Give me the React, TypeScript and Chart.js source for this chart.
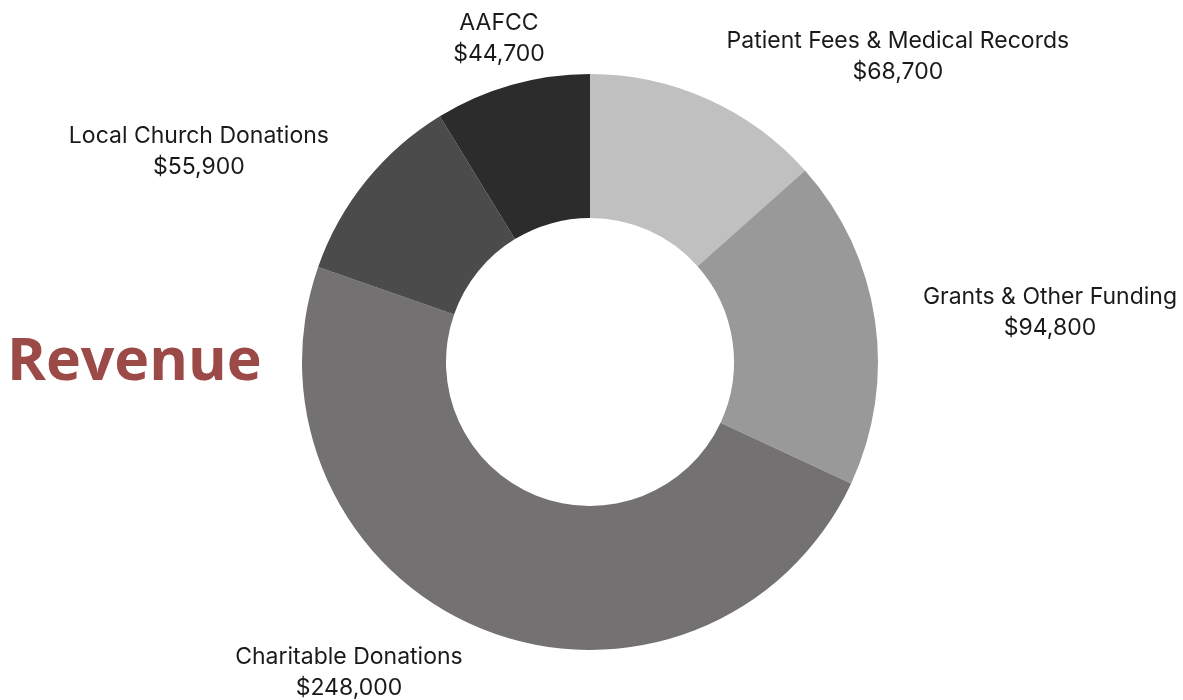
import React, { useEffect, useRef } from "react";
import { Chart, registerables } from "chart.js";

Chart.register(...registerables);

const categories = [
  "Patient Fees & Medical Records",
  "Grants & Other Funding",
  "Charitable Donations",
  "Local Church Donations",
  "AAFCC",
];
const revenueValues = [68700, 94800, 248000, 55900, 44700];
const sliceColors = ["#c1c0c0", "#9a9999", "#737172", "#4b4b4b", "#2c2c2c"];
// label block centres, relative to chart centre, in units of the outer radius
const labelAnchors = [
  [1.069, -1.062],
  [1.597, -0.170],
  [-0.837, 1.080],
  [-1.358, -0.729],
  [-0.316, -1.124],
];
const title = "Revenue";

const fmt = (v: number) => "$" + v.toLocaleString("en-US");

const labelPlugin = {
  id: "outerLabels",
  afterDraw(chart: any) {
    const meta = chart.getDatasetMeta(0);
    const arc = meta.data[0];
    if (!arc) return;
    const { x: cx, y: cy, outerRadius } = arc.getProps(["x", "y", "outerRadius"], true);
    const ctx = chart.ctx;
    ctx.save();
    ctx.fillStyle = "#1a1a1a";
    ctx.font = "23px Inter, 'Noto Sans', sans-serif";
    ctx.textAlign = "center";
    ctx.textBaseline = "middle";
    categories.forEach((c, i) => {
      const [fx, fy] = labelAnchors[i];
      const x = cx + fx * outerRadius;
      const y = cy + fy * outerRadius;
      ctx.fillText(c, x, y - 15.5);
      ctx.fillText(fmt(revenueValues[i]), x, y + 15.5);
    });
    ctx.restore();
  },
};

export default function App() {
  const ref = useRef<HTMLCanvasElement | null>(null);
  useEffect(() => {
    if (!ref.current) return;
    const chart = new Chart(ref.current, {
      type: "doughnut",
      data: {
        labels: categories,
        datasets: [
          {
            data: revenueValues,
            backgroundColor: sliceColors,
            borderWidth: 0,
          },
        ],
      },
      options: {
        animation: false,
        responsive: false,
        cutout: "50%",
        layout: { padding: { left: 302, right: 305, top: 74, bottom: 50 } },
        plugins: {
          legend: { display: false },
          tooltip: { enabled: false },
        },
      },
      plugins: [labelPlugin],
    });
    return () => chart.destroy();
  }, []);
  return (
    <div style={{ position: "absolute", left: 0, top: 0, width: 1183, height: 700, background: "#fff" }}>
      <canvas ref={ref} width={1183} height={700} style={{ position: "absolute", left: 0, top: 0 }} />
      <div
        style={{
          position: "absolute",
          left: 7,
          top: 320,
          fontFamily: "'Open Sans', sans-serif",
          fontWeight: 700,
          fontSize: 59,
          lineHeight: "74px",
          color: "#9c4a48",
          letterSpacing: 0,
        }}
      >
        {title}
      </div>
    </div>
  );
}
